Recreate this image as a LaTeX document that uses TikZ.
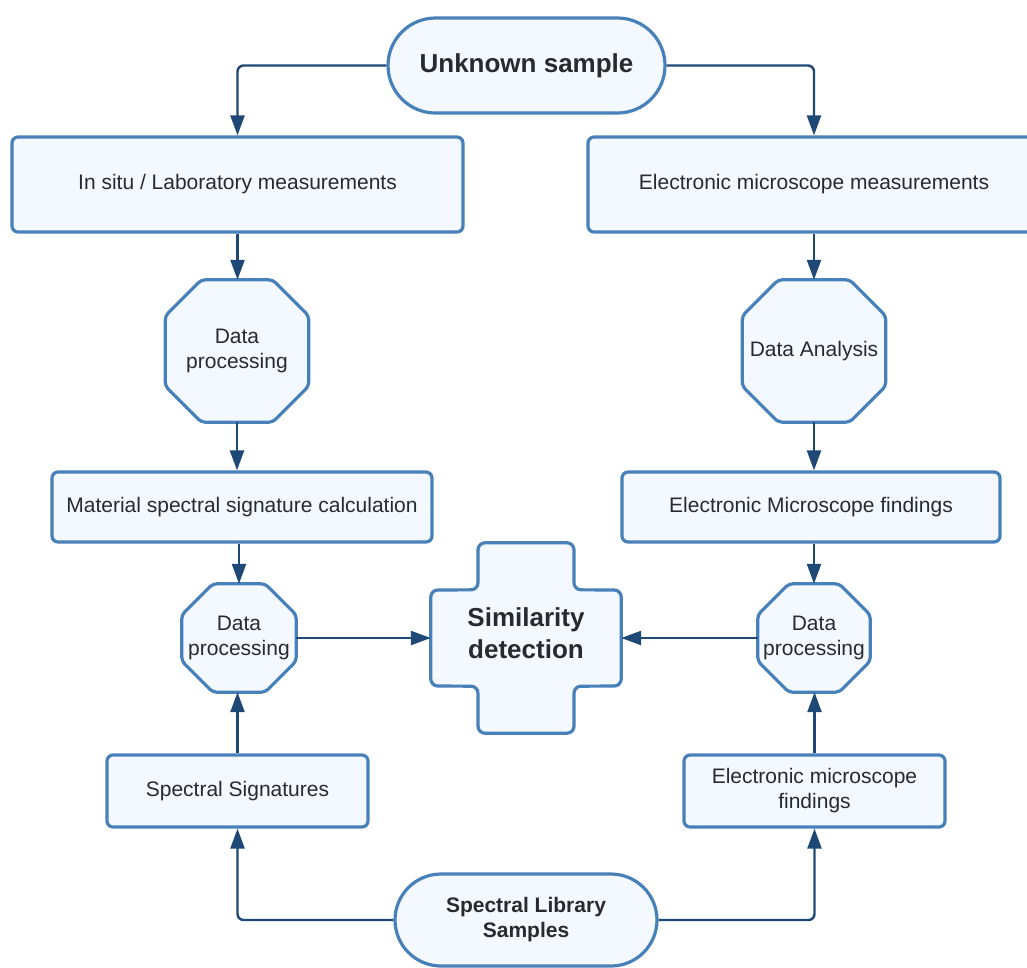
\documentclass[tikz,border=0pt]{standalone}
\usepackage{fontspec}
\setmainfont{Liberation Sans}
\usetikzlibrary{shapes.misc,arrows.meta,calc,backgrounds}
\definecolor{bordc}{RGB}{72,128,186}
\definecolor{arrc}{RGB}{30,72,118}
\definecolor{fillc}{RGB}{244,249,255}
\definecolor{txtc}{RGB}{40,42,46}
\begin{document}
\begin{tikzpicture}[x=1pt,y=-1pt,
  every node/.style={text=txtc, font=\fontsize{21}{25}\selectfont, align=center, inner sep=0pt},
  box/.style={draw=bordc, fill=fillc, line width=3.2pt, rounded corners=6pt},
  holder/.style={},
  stadium/.style={rounded rectangle, draw=bordc, fill=fillc, line width=3.2pt},
  bigbold/.style={font=\bfseries\fontsize{26}{32}\selectfont},
  midbold/.style={font=\bfseries\fontsize{21}{25}\selectfont},
  shp/.style={draw=bordc, fill=fillc, line width=3.2pt, rounded corners=4pt, line join=round},
  arr/.style={draw=arrc, line width=2.4pt, rounded corners=6pt, -{Triangle[length=20pt,width=14pt]}}
]
\useasboundingbox (0,0) rectangle (1027,967);
\clip (0,0) rectangle (1027,967);

% nodes
\node[stadium, bigbold, minimum width=277pt, minimum height=95pt] (us) at (526.5,65.5) {Unknown sample};
\node[box, minimum width=451pt, minimum height=95pt] (lm) at (237.5,184.5) {In situ / Laboratory measurements};
\node[box, minimum width=452pt, minimum height=95pt] (em) at (814,184.5) {Electronic microscope measurements};
\node[holder, minimum width=143pt, minimum height=142pt] (dp1) at (237,351) {Data\\processing};
\node[holder, minimum width=143pt, minimum height=142pt] (da) at (814,351) {Data Analysis};
\node[box, minimum width=380pt, minimum height=70pt] (ms) at (242,507) {Material spectral signature calculation};
\node[box, minimum width=378pt, minimum height=70pt] (ef) at (811,507) {Electronic Microscope findings};
\node[holder, minimum width=114pt, minimum height=108pt] (dp2) at (239,638) {Data\\processing};
\node[holder, minimum width=112pt, minimum height=108pt] (dp3) at (814,638) {Data\\processing};
\node[holder, bigbold, minimum width=190pt, minimum height=190pt] (sd) at (526,638) {Similarity\\detection\rule[-10pt]{0pt}{10pt}};
\node[box, minimum width=261pt, minimum height=72pt] (ss) at (237.5,791) {Spectral Signatures};
\node[box, minimum width=261pt, minimum height=72pt] (ef2) at (814.5,791) {Electronic microscope\\findings};
\node[stadium, midbold, minimum width=262pt, minimum height=92pt] (sl) at (526,920) {Spectral Library\\Samples};

% custom shapes behind the text
\begin{scope}[on background layer]
\foreach \n/\c in {dp1/36,da/36,dp2/31,dp3/31}{
  \draw[shp] ($(\n.north west)+(\c,0)$) -- ($(\n.north east)+(-\c,0)$)
    -- ($(\n.north east)+(0,\c)$) -- ($(\n.south east)+(0,-\c)$)
    -- ($(\n.south east)+(-\c,0)$) -- ($(\n.south west)+(\c,0)$)
    -- ($(\n.south west)+(0,-\c)$) -- ($(\n.north west)+(0,\c)$) -- cycle;
}
\draw[shp, rounded corners=7pt] ($(sd.north)+(-48,0)$) -- ($(sd.north)+(48,0)$)
  -- ($(sd.north)+(48,47)$) -- ($(sd.east)+(0,-48)$)
  -- ($(sd.east)+(0,48)$) -- ($(sd.south)+(48,-47)$)
  -- ($(sd.south)+(48,0)$) -- ($(sd.south)+(-48,0)$)
  -- ($(sd.south)+(-48,-47)$) -- ($(sd.west)+(0,48)$)
  -- ($(sd.west)+(0,-48)$) -- ($(sd.north)+(-48,47)$) -- cycle;
\end{scope}

% connectors
\draw[arr] (us.west) -| (lm.north);
\draw[arr] (us.east) -| (em.north);
\draw[arr] (lm.south) -- (lm.south |- dp1.north);
\draw[arr] (em.south) -- (da.north);
\draw[arr] (dp1.south) -- (dp1.south |- ms.north);
\draw[arr] (da.south) -- (da.south |- ef.north);
\draw[arr] (dp2.north |- ms.south) -- (dp2.north);
\draw[arr] (dp3.north |- ef.south) -- (dp3.north);
\draw[arr] (dp2.east) -- (sd.west);
\draw[arr] (dp3.west) -- (sd.east);
\draw[arr] (ss.north) -- (ss.north |- dp2.south);
\draw[arr] (ef2.north) -- (ef2.north |- dp3.south);
\draw[arr] (sl.west) -| (ss.south);
\draw[arr] (sl.east) -| (ef2.south);
\end{tikzpicture}
\end{document}
